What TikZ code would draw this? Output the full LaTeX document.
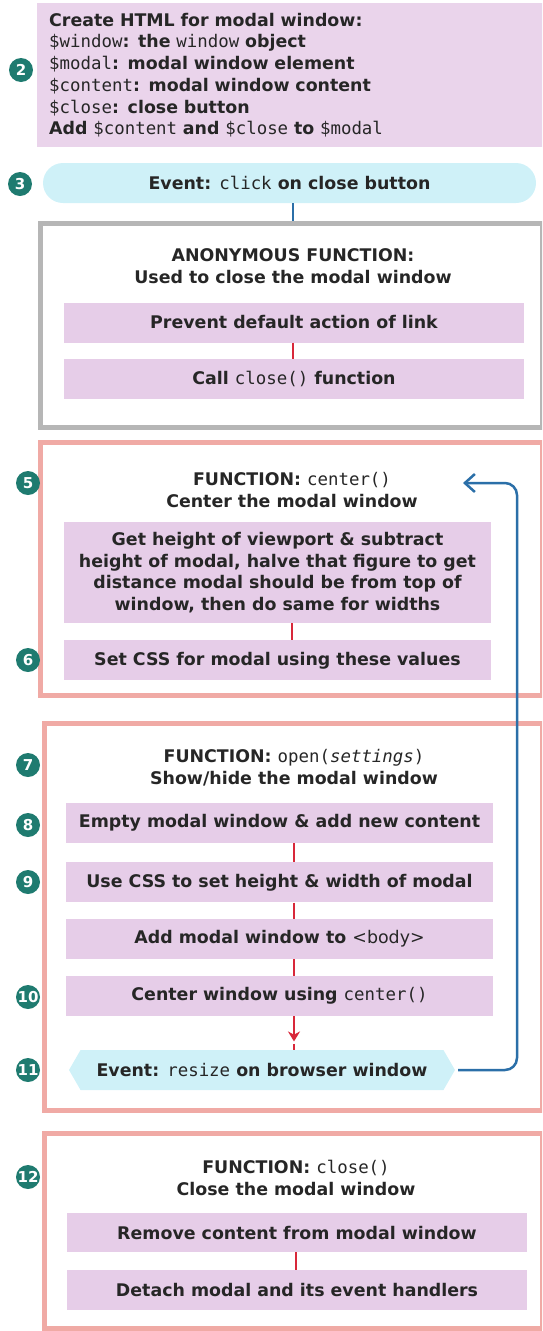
\documentclass[tikz,border=0pt]{standalone}
\usepackage{fontspec}
\setmainfont{DejaVu Sans}
\setmonofont{DejaVu Sans Mono}
\usetikzlibrary{arrows.meta,positioning,shapes.symbols,calc}

\definecolor{setupfill}{HTML}{EAD4EB}
\definecolor{stepfill}{HTML}{E6CDE8}
\definecolor{eventfill}{HTML}{CFF1F8}
\definecolor{framepink}{HTML}{F0AAA5}
\definecolor{framegray}{HTML}{B6B6B6}
\definecolor{badgeteal}{HTML}{1F7B70}
\definecolor{loopblue}{HTML}{2B6FA8}
\definecolor{linkred}{HTML}{D8283A}
\definecolor{inktext}{HTML}{262626}

\newcommand{\jscode}[1]{{\ttfamily\mdseries #1}}

\begin{document}
\begin{tikzpicture}[
    x=1pt, y=-1pt,
    node distance=17pt,
    every node/.style={font=\fontsize{17.4}{21.7}\selectfont\bfseries, text=inktext},
    setup/.style={fill=setupfill, anchor=north west, align=left, inner xsep=12pt, inner ysep=0pt, text width=516pt, minimum height=144pt},
    stepbox/.style={fill=stepfill, align=center, inner sep=0pt, minimum height=40pt},
    clickbar/.style={fill=eventfill, rounded corners=20pt, minimum width=493pt, minimum height=40pt, inner sep=0pt},
    resizebar/.style={fill=eventfill, signal, signal to=west and east, signal pointer angle=120, minimum width=386pt, minimum height=40pt, inner sep=0pt},
    pinkframe/.style={draw=framepink, line width=5pt, inner sep=0pt},
    grayframe/.style={draw=framegray, line width=5pt, inner sep=0pt},
    heading/.style={align=center},
    badge/.style={circle, fill=badgeteal, text=white, minimum size=24pt, inner sep=0pt, font=\fontsize{15}{15}\selectfont\bfseries},
    redlink/.style={draw=linkred, line width=2pt},
    bluelink/.style={draw=loopblue, line width=2.5pt, rounded corners=12pt}
]
\clip (0,0) rectangle (542,1331);

% frames
\node[grayframe, minimum width=502pt, minimum height=204pt] (anonframe) at (291,325) {};
\node[pinkframe, minimum width=502pt, minimum height=253pt] (centerframe) at (291,568.5) {};
\node[pinkframe, minimum width=498pt, minimum height=387pt] (openframe) at (293,916.5) {};
\node[pinkframe, minimum width=498pt, minimum height=195pt] (closeframe) at (293,1230.5) {};

% step 2
\node[setup] (create) at (37,3) {Create HTML for modal window:\\
\jscode{\$window}: the \jscode{window} object\\
\jscode{\$modal}: modal window element\\
\jscode{\$content}: modal window content\\
\jscode{\$close}: close button\\
Add \jscode{\$content} and \jscode{\$close} to \jscode{\$modal}};

% click handler
\node[clickbar] (clickev) at (289.5,183) {Event: \jscode{click} on close button};
\node[heading] (anontitle) at (293,266) {ANONYMOUS FUNCTION:\\Used to close the modal window};
\node[stepbox, minimum width=460pt] (prevent) at (294,322.5) {Prevent default action of link};
\node[stepbox, minimum width=460pt, below=16pt of prevent] (callclose) {Call \jscode{close()} function};

% center()
\node[heading] (centertitle) at (292,490) {FUNCTION: \jscode{center()}\\Center the modal window};
\node[stepbox, minimum width=427pt, minimum height=101pt] (measure) at (277.5,572.5) {Get height of viewport \& subtract\\height of modal, halve that figure to get\\distance modal should be from top of\\window, then do same for widths};
\node[stepbox, minimum width=427pt, below=of measure] (setcss) {Set CSS for modal using these values};

% open(settings)
\node[heading] (opentitle) at (294,768) {FUNCTION: \jscode{open(\textit{settings})}\\Show/hide the modal window};
\node[stepbox, minimum width=427pt] (empty) at (279.5,823) {Empty modal window \& add new content};
\node[stepbox, minimum width=427pt, below=19pt of empty] (usecss) {Use CSS to set height \& width of modal};
\node[stepbox, minimum width=427pt, below=16pt of usecss] (addbody) {Add modal window to {\mdseries <body>}};
\node[stepbox, minimum width=427pt, below=of addbody] (centerwin) {Center window using \jscode{center()}};
\node[resizebar] (resize) at (262,1070) {Event: \jscode{resize} on browser window};

% close()
\node[heading] (closetitle) at (296,1178) {FUNCTION: \jscode{close()}\\Close the modal window};
\node[stepbox, minimum width=460pt, minimum height=39pt] (remove) at (297,1232.5) {Remove content from modal window};
\node[stepbox, minimum width=460pt, below=18pt of remove] (detach) {Detach modal and its event handlers};

% numbered badges
\node[badge] (badge2) at (21,70) {2};
\node[badge] (badge3) at (20,184) {3};
\foreach \num/\ypos in {5/483, 6/660, 7/765, 8/825, 9/882, 10/997, 11/1070, 12/1177}
    \node[badge] (badge\num) at (28,\ypos) {\num};

% connectors
\draw[bluelink] (clickev.south -| anontitle) -- (anonframe.north -| anontitle);
\draw[redlink] (prevent.south -| anontitle) -- (callclose.north -| anontitle);
\draw[redlink] (measure.south -| centertitle) -- (setcss.north -| centertitle);
\draw[redlink] (empty.south -| opentitle) -- (usecss.north -| opentitle);
\draw[redlink] (usecss.south -| opentitle) -- (addbody.north -| opentitle);
\draw[redlink] (addbody.south -| opentitle) -- (centerwin.north -| opentitle);
\draw[redlink, -{Stealth[length=10pt, width=12pt]}] (centerwin.south -| opentitle) -- ($(centerwin.south -| opentitle)!0.75!(resize.north -| opentitle)$);
\draw[redlink] ($(centerwin.south -| opentitle)!0.82!(resize.north -| opentitle)$) -- (resize.north -| opentitle);
\draw[redlink] (remove.south -| closetitle) -- (detach.north -| closetitle);

% resize loops back to center()
\coordinate (loopturn) at (517,483);
\coordinate (loopend) at (463,483);
\draw[bluelink, -{Straight Barb[length=10pt, width=18pt]}] ([xshift=3pt]resize.east) -| (loopturn) -- (loopend);
\end{tikzpicture}
\end{document}
